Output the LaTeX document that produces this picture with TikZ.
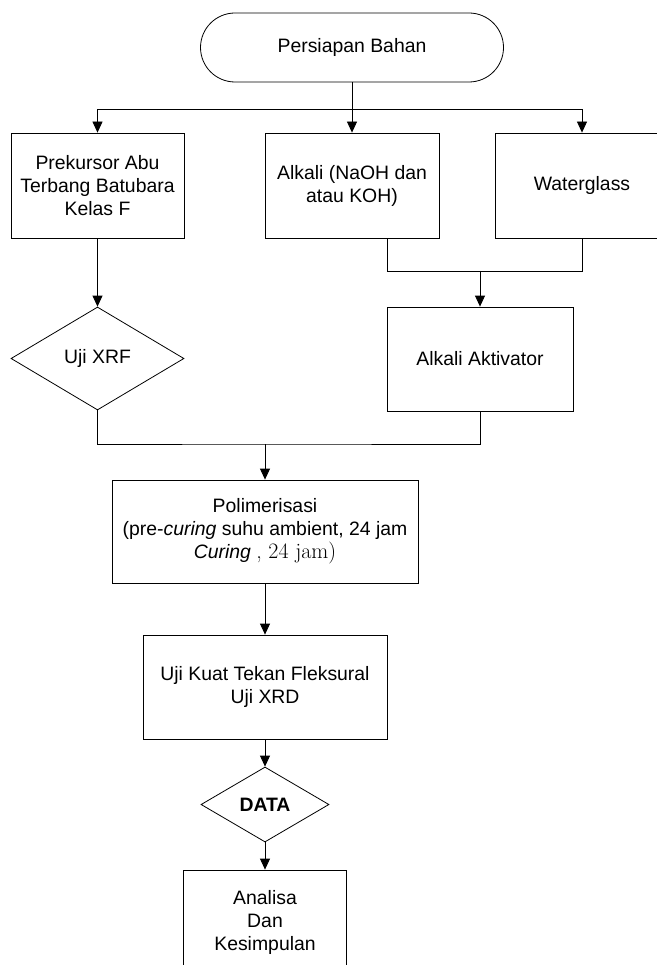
\documentclass[tikz,border=0pt]{standalone}
\usepackage{fontspec}
\setsansfont{Liberation Sans}
\usetikzlibrary{arrows.meta,shapes.geometric}
\begin{document}
\begin{tikzpicture}[x=1pt,y=-1pt,
  every node/.style={font=\sffamily\fontsize{19.4}{23}\selectfont, align=center, inner sep=0pt, draw=black, line width=0.8pt},
  boxnode/.style={rectangle, minimum width=#1},
  decnode/.style={diamond, aspect=1.7},
  line/.style={draw=black, line width=0.8pt},
  arr/.style={line, -{Triangle[length=11pt,width=10pt]}}]
\useasboundingbox (0,0) rectangle (656,965);
\fill[white] (0,0) rectangle (656,965);

\node[rectangle, rounded corners=34.5pt, minimum width=303pt, minimum height=69pt] (term) at (352,47.5) {Persiapan Bahan};

\node[boxnode=173pt, minimum height=105pt] (prek) at (97.5,185.5) {Prekursor Abu\\Terbang Batubara\\Kelas F};
\node[boxnode=174pt, minimum height=105pt] (alk) at (352,185.5) {Alkali (NaOH dan\\atau KOH)};
\node[boxnode=174pt, minimum height=105pt] (wg) at (582,185.5) {Waterglass};

\node[decnode, minimum width=173pt, minimum height=103pt] (xrf) at (97.5,358.5) {Uji XRF};
\node[boxnode=186pt, minimum height=104pt] (akt) at (480,359) {Alkali Aktivator};

\node[boxnode=306pt, minimum height=103pt] (poli) at (265,531.5) {Polimerisasi\\(pre-\textit{curing} suhu ambient, 24 jam\\\textit{Curing} {\rmfamily\fontsize{22}{23}\selectfont, 24 jam)}};
\node[boxnode=244pt, minimum height=104pt] (uji) at (265,687) {Uji Kuat Tekan Fleksural\\Uji XRD};
\node[decnode, minimum width=128pt, minimum height=75pt] (data) at (265,804.5) {\bfseries DATA};
\node[boxnode=163pt, minimum height=104pt] (ana) at (265,922) {Analisa\\Dan\\Kesimpulan};

\coordinate (top) at (352,109);
\coordinate (j1) at (480,271);
\coordinate (j2) at (265,444);

\draw[line] (term.south) -- (top);
\draw[arr] (top) -| (prek.north);
\draw[arr] (top) -| (wg.north);
\draw[arr] (top) -- (alk.north);

\draw[arr] (prek.south) -- (xrf.north);
\draw[line] ([xshift=35pt]alk.south) |- (wg.south |- j1) -- (wg.south);
\draw[arr] (j1) -- (akt.north);

\draw[line] (xrf.south) |- (j2) -| (akt.south);
\draw[arr] (j2) -- (poli.north);
\draw[arr] (poli.south) -- (uji.north);
\draw[arr] (uji.south) -- (data.north);
\draw[arr] (data.south) -- (ana.north);
\end{tikzpicture}
\end{document}
